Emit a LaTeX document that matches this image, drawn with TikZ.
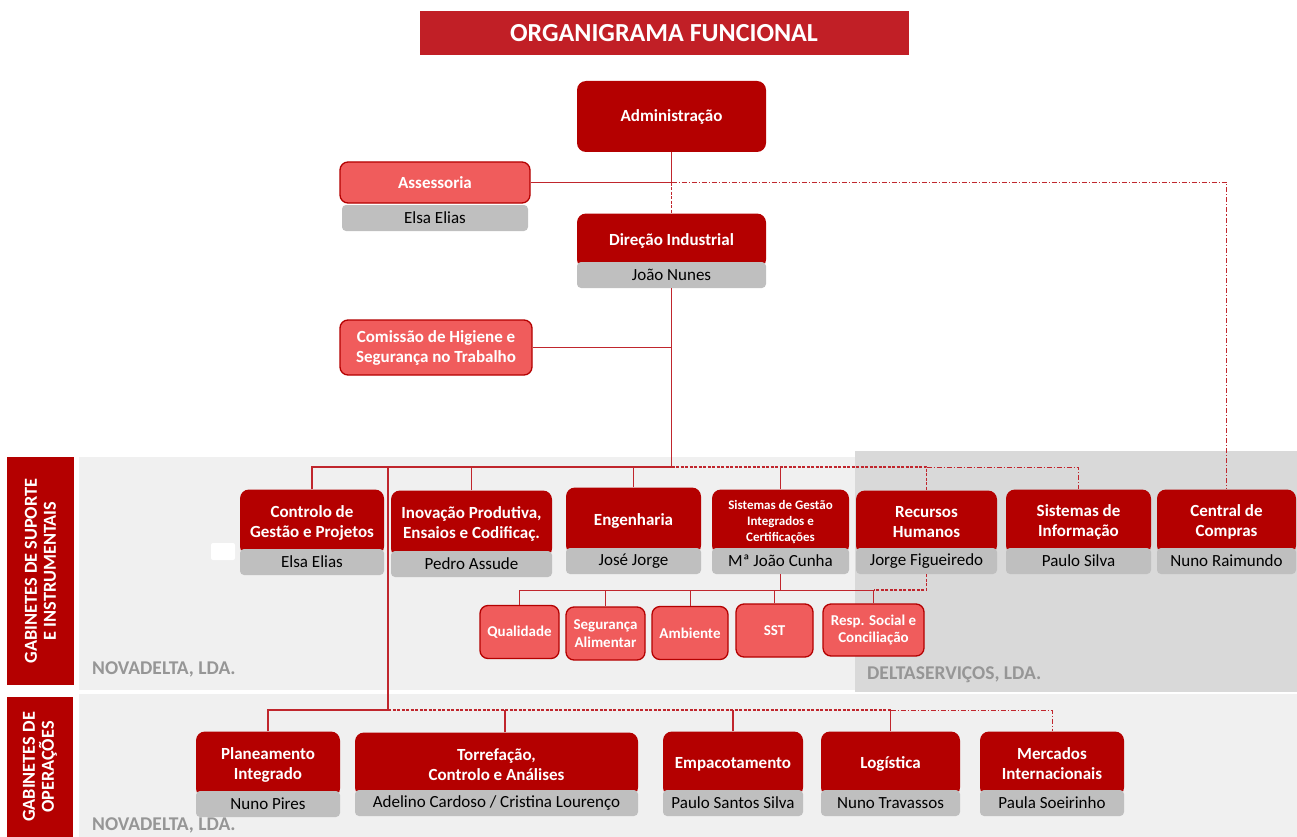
\documentclass[tikz,border=0pt]{standalone}
\usepackage{fontspec}
\setmainfont{Carlito}
\usepackage{xcolor}
\usepackage{tikz}
\usetikzlibrary{positioning,calc}
\definecolor{deepred}{RGB}{180,0,0}
\definecolor{titlered}{RGB}{193,31,38}
\definecolor{softred}{RGB}{240,92,92}
\definecolor{linered}{RGB}{192,38,45}
\definecolor{stripgray}{RGB}{191,191,191}
\definecolor{panellight}{RGB}{240,240,240}
\definecolor{paneldark}{RGB}{217,217,217}
\definecolor{firmgray}{RGB}{150,150,150}
% red unit box with the gray name strip under it
\newcommand{\unitbox}[8][]{%
  \node[head, #1, minimum width=#5, minimum height=#6+7] (#2) at (#3,#4+#6/2+3) {#7};
  \node[who, minimum width=#5, minimum height=26] (#2n) at (#3,#4+#6+13) {#8};}

\begin{document}
\begin{tikzpicture}[x=1pt, y=-1pt,
  head/.style={fill=deepred, rounded corners=9pt, text=white, align=center,
    inner sep=2pt, font=\bfseries\fontsize{17}{20}\selectfont},
  who/.style={fill=stripgray, rounded corners=4pt, inner sep=0pt,
    font=\fontsize{17}{20}\selectfont},
  soft/.style={draw=deepred, line width=1.3pt, fill=softred, rounded corners=8pt,
    text=white, align=center, inner sep=2pt, font=\bfseries\fontsize{17}{20}\selectfont},
  small/.style={font=\bfseries\fontsize{15}{17.5}\selectfont},
  tag/.style={fill=deepred, text=white, rotate=90, align=center, inner sep=0pt,
    font=\bfseries\fontsize{18.3}{19}\selectfont},
  firm/.style={anchor=west, inner sep=0pt, text=firmgray,
    font=\bfseries\fontsize{19.5}{21}\selectfont},
  link/.style={draw=linered, line width=1.1pt},
  dlink/.style={link, dash pattern=on 3pt off 1.5pt},
  ddlink/.style={draw=linered, line width=0.9pt, dash pattern=on 5pt off 2pt on 1pt off 2pt},
]
  \useasboundingbox (0,0) rectangle (1297,837);

  % panels of the two groups of units
  \fill[panellight] (79,457) rectangle (1297,690);
  \fill[paneldark] (855,451) rectangle (1297,692);
  \fill[panellight] (79,694) rectangle (1297,837);
  \fill[white, rounded corners=2pt] (211,543) rectangle (235,560);

  \node[fill=titlered, text=white, minimum width=489, minimum height=44,
    font=\bfseries\fontsize{26}{28}\selectfont] (ttl) at (664,33) {ORGANIGRAMA FUNCIONAL};

  \node[tag, minimum width=228, minimum height=67] (gsi) at (40.5,571)
    {GABINETES DE SUPORTE\\E INSTRUMENTAIS};
  \node[tag, minimum width=140, minimum height=66] (gop) at (40,767)
    {GABINETES DE\\OPERAÇÕES};

  \node[firm] (nd1) at (92,669) {NOVADELTA, LDA.};
  \node[firm] (ds) at (867,675) {DELTASERVIÇOS, LDA.};
  \node[firm] (nd2) at (92,825) {NOVADELTA, LDA.};

  % top of the chart
  \node[head, minimum width=189, minimum height=71] (adm) at (671.5,116.5) {Administração};
  \node[soft, minimum width=190, minimum height=41] (ass) at (435,182.5) {Assessoria};
  \node[who, minimum width=186, minimum height=26] (assn) at (435,218) {Elsa Elias};
  \unitbox{dir}{671.5}{214}{189}{48}{Direção Industrial}{João Nunes}
  \node[soft, minimum width=192, minimum height=55] (chst) at (436,347.5)
    {Comissão de Higiene e\\Segurança no Trabalho};

  % support units
  \unitbox{cgp}{312}{490}{144}{59}{Controlo de\\Gestão e Projetos}{Elsa Elias}
  \unitbox{ipe}{471.5}{491}{161}{60}{Inovação Produtiva,\\Ensaios e Codificaç.}{Pedro Assude}
  \unitbox{eng}{633.5}{488}{135}{60}{Engenharia}{José Jorge}
  \unitbox[font=\bfseries\fontsize{13}{16}\selectfont]{sgi}{780.5}{490}{137}{58}
    {Sistemas de Gestão\\Integrados e\\Certificações}{Mª João Cunha}
  \unitbox{rh}{926.5}{491}{141}{57}{Recursos\\Humanos}{Jorge Figueiredo}
  \unitbox{si}{1078.5}{490}{145}{58}{Sistemas de\\Informação}{Paulo Silva}
  \unitbox{cc}{1226.5}{490}{139}{58}{Central de\\Compras}{Nuno Raimundo}

  \node[soft, small, minimum width=79, minimum height=53] (qual) at (519.5,632) {Qualidade};
  \node[soft, small, minimum width=79, minimum height=53] (segal) at (605.5,633.5) {Segurança\\Alimentar};
  \node[soft, small, minimum width=76, minimum height=53] (amb) at (690,633) {Ambiente};
  \node[soft, small, minimum width=77, minimum height=53] (sst) at (774.5,630.5) {SST};
  \node[soft, small, minimum width=101, minimum height=52] (rsc) at (873.5,630)
    {Resp. Social e\\Conciliação};

  % operations units
  \unitbox{pi}{268}{732}{144}{59}{Planeamento\\Integrado}{Nuno Pires}
  \unitbox{tca}{496.5}{733}{283}{57}{Torrefação,\\Controlo e Análises}
    {Adelino Cardoso / Cristina Lourenço}
  \unitbox{emp}{733}{732}{140}{58}{Empacotamento}{Paulo Santos Silva}
  \unitbox{log}{890.5}{732}{139}{58}{Logística}{Nuno Travassos}
  \unitbox{mi}{1052}{732}{144}{58}{Mercados\\Internacionais}{Paula Soeirinho}

  % connectors
  \coordinate (topbus) at (671.5,467);
  \coordinate (lowbus) at (388,710);
  \coordinate (subbus) at (780.5,590);

  \draw[link] (adm) -- (adm |- ass);
  \draw[link] (ass) -- (adm |- ass);
  \draw[dlink] (adm |- ass) -- (dir);
  \draw[ddlink] (adm |- ass) -| (cc);
  \draw[link] (dirn) -- (topbus);
  \draw[link] (chst) -- (chst -| dirn);

  \draw[link] (cgp) |- (topbus);
  \draw[link] (ipe) -- (ipe |- topbus);
  \draw[link] (eng) -- (eng |- topbus);
  \draw[link] (sgi) -- (sgi |- topbus);
  \draw[dlink] (topbus) -| (rh);
  \draw[ddlink] (rh |- topbus) -| (si);

  \draw[link] (sgin) -- (subbus);
  \draw[link, line width=0.8pt] (qual) |- (rsc |- subbus) -- (rsc);
  \foreach \b in {segal,amb,sst}
    \draw[link, line width=0.8pt] (\b) -- (\b |- subbus);
  \draw[dlink] (rhn) |- (rsc |- subbus);

  \draw[link] (lowbus |- topbus) -- (lowbus);
  \draw[link] (pi) |- (lowbus);
  \draw[dlink] (lowbus) -- (log |- lowbus);
  \draw[link] ([xshift=8.5]tca.north) -- ([xshift=8.5]tca.north |- lowbus);
  \draw[link] (emp) -- (emp |- lowbus);
  \draw[link] (log) -- (log |- lowbus);
  \draw[ddlink] (log |- lowbus) -| (mi);
\end{tikzpicture}
\end{document}
